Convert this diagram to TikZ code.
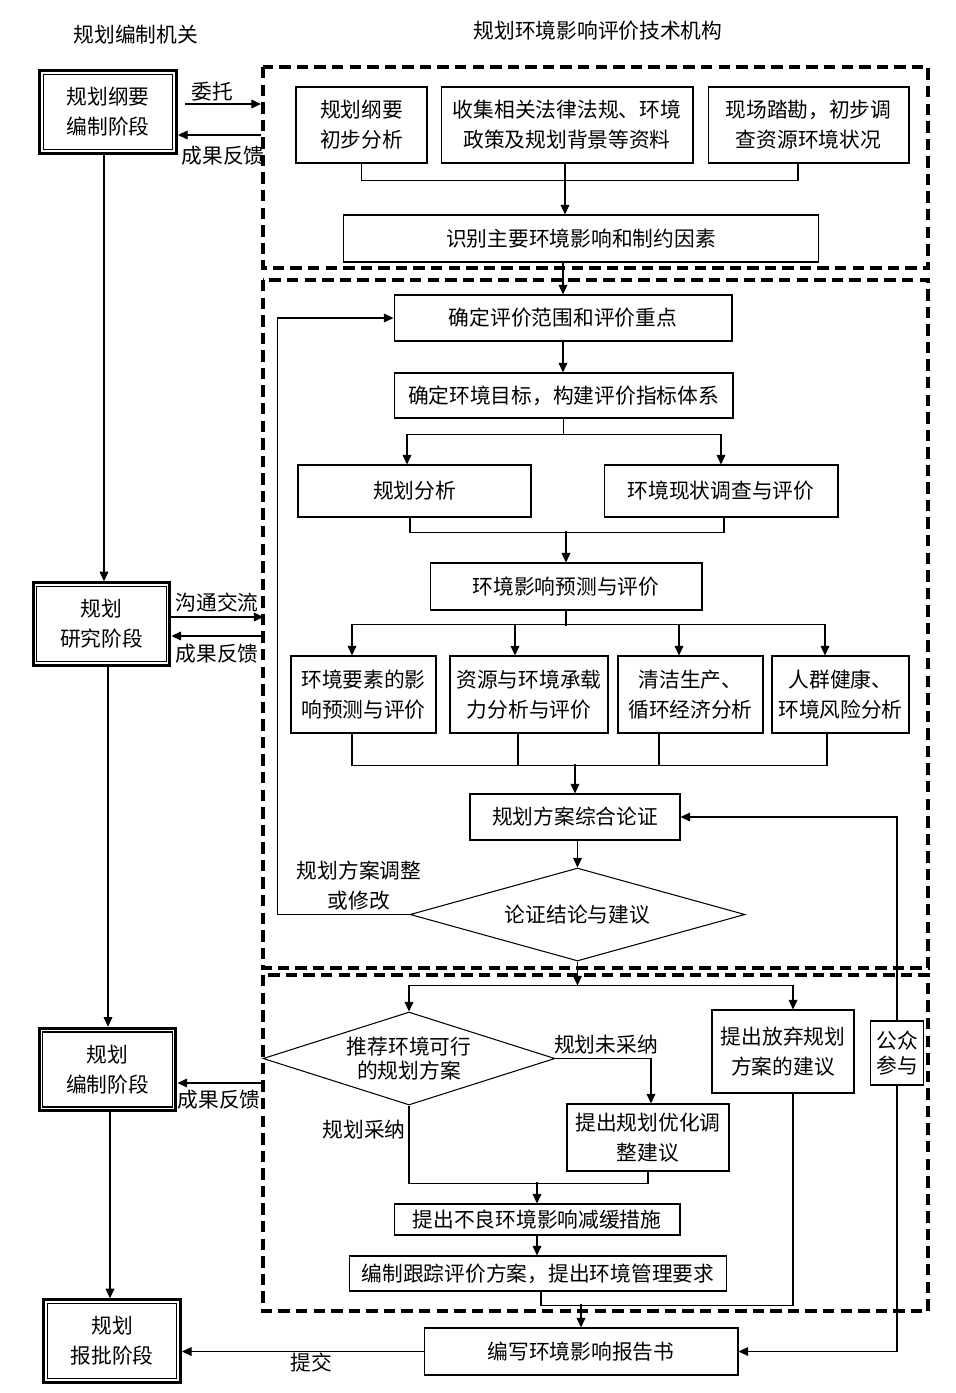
\documentclass[tikz,border=0pt]{standalone}
\usepackage{fontspec}
\setmainfont{Noto Sans CJK SC}
\usetikzlibrary{arrows.meta,shapes.geometric}

\begin{document}
\begin{tikzpicture}[x=0.02cm,y=-0.02cm,
    font=\fontsize{11.8pt}{17pt}\selectfont,
    box/.style={draw, line width=0.6pt, align=center, inner sep=0pt},
    stage/.style={draw, line width=1.7pt, align=center, inner sep=0pt,
        minimum width=2.74cm, minimum height=1.65cm},
    choice/.style={draw, diamond, line width=0.6pt, align=center, inner sep=0pt},
    dbox/.style={line width=1.8pt, dash pattern=on 6.5pt off 3.5pt},
    arr/.style={line width=0.6pt, -{Triangle[length=5.5pt,width=5pt]}},
    link/.style={line width=0.6pt},
    lbl/.style={inner sep=0pt, align=center}]

    \useasboundingbox (0,0) rectangle (956,1393);

    % Column headings
    \node[lbl] (hleft) at (136,35) {规划编制机关};
    \node[lbl] (hright) at (598,31) {规划环境影响评价技术机构};

    % Planning stages on the left (double frame)
    \node[stage] (s1) at (108,112) {规划纲要\\编制阶段};
    \node[stage] (s2) at (101.5,624) {规划\\研究阶段};
    \node[stage] (s3) at (107.5,1069.5) {规划\\编制阶段};
    \node[stage] (s4) at (112,1341) {规划\\报批阶段};
    \foreach \s in {s1,s2,s3,s4}
        \draw[line width=0.8pt] ([shift={(3pt,-3pt)}]\s.north west) rectangle ([shift={(-3pt,3pt)}]\s.south east);

    % Dashed frames of the three work phases
    \draw[dbox] (263,67) rectangle (928,268);
    \draw[dbox] (263,280) rectangle (928,968);
    \draw[dbox] (263,975) rectangle (928,1311);

    % Phase 1: preparation
    \node[box, minimum width=2.62cm, minimum height=1.52cm] (a1) at (361.5,125) {规划纲要\\初步分析};
    \node[box, minimum width=5.04cm, minimum height=1.52cm] (a2) at (567,125) {收集相关法律法规、环境\\政策及规划背景等资料};
    \node[box, minimum width=4.02cm, minimum height=1.52cm] (a3) at (808.5,125) {现场踏勘，初步调\\查资源环境状况};
    \node[box, minimum width=9.52cm, minimum height=0.94cm] (a4) at (581,238.5) {识别主要环境影响和制约因素};

    % Phase 2: assessment
    \node[box, minimum width=6.76cm, minimum height=0.92cm] (b1) at (563,318) {确定评价范围和评价重点};
    \node[box, minimum width=6.78cm, minimum height=0.90cm] (b2) at (563.5,395.5) {确定环境目标，构建评价指标体系};
    \node[box, minimum width=4.66cm, minimum height=1.04cm] (b3) at (414.5,491) {规划分析};
    \node[box, minimum width=4.68cm, minimum height=1.04cm] (b4) at (721,491) {环境现状调查与评价};
    \node[box, minimum width=5.44cm, minimum height=0.94cm] (b5) at (566,586.5) {环境影响预测与评价};
    \node[box, minimum width=2.90cm, minimum height=1.54cm] (c1) at (363.5,694.5) {环境要素的影\\响预测与评价};
    \node[box, minimum width=3.16cm, minimum height=1.54cm] (c2) at (529,694.5) {资源与环境承载\\力分析与评价};
    \node[box, minimum width=2.90cm, minimum height=1.54cm] (c3) at (690.5,694.5) {清洁生产、\\循环经济分析};
    \node[box, minimum width=2.74cm, minimum height=1.54cm] (c4) at (840.5,694.5) {人群健康、\\环境风险分析};
    \node[box, minimum width=4.20cm, minimum height=0.92cm] (b6) at (575,817) {规划方案综合论证};
    \node[choice, aspect=3.6, minimum width=6.7cm, minimum height=1.86cm] (d1) at (577.5,914.5) {论证结论与建议};

    % Phase 3: conclusions
    \node[choice, aspect=3.14, minimum width=5.84cm, minimum height=1.86cm] (d2) at (409,1058.5) {推荐环境可行\\[-3pt]的规划方案};
    \node[box, minimum width=2.84cm, minimum height=1.66cm] (e1) at (783,1051.5) {提出放弃规划\\方案的建议};
    \node[box, minimum width=3.24cm, minimum height=1.34cm] (e2) at (648,1137.5) {提出规划优化调\\整建议};
    \node[box, minimum width=5.72cm, minimum height=0.62cm] (e3) at (537,1219.5) {提出不良环境影响减缓措施};
    \node[box, minimum width=7.56cm, minimum height=0.70cm] (e4) at (538,1273.5) {编制跟踪评价方案，提出环境管理要求};
    \node[box, minimum width=6.28cm, minimum height=0.94cm] (rep) at (581,1351.5) {编写环境影响报告书};
    \node[box, minimum width=1.06cm, minimum height=1.28cm, font=\fontsize{11.8pt}{14pt}\selectfont] (pub) at (897,1053) {公众\\参与};

    % Labels on connectors
    \node[lbl] (wt) at (212,92) {委托};
    \node[lbl] (fb1) at (223,156) {成果反馈};
    \node[lbl] (gt) at (217,603) {沟通交流};
    \node[lbl] (fb2) at (217,654) {成果反馈};
    \node[lbl] (fb3) at (219,1100) {成果反馈};
    \node[lbl] (tj) at (311,1363) {提交};
    \node[lbl] (adj) at (359,886) {规划方案调整\\或修改};
    \node[lbl] (wcn) at (606,1045) {规划未采纳};
    \node[lbl] (cn) at (364,1130) {规划采纳};

    % Left column: stage sequence and exchanges with the assessment body
    \draw[arr] ([xshift=-0.08cm]s1.south) -- ([xshift=-0.08cm]s1.south |- s2.north);
    \draw[arr] ([xshift=0.13cm]s2.south) -- ([xshift=0.13cm]s2.south |- s3.north);
    \draw[arr] ([xshift=0.05cm]s3.south) -- ([xshift=0.05cm]s3.south |- s4.north);
    \draw[arr] ([xshift=0.14cm,yshift=0.16cm]s1.east) -- ++(76,0);
    \draw[arr] ([yshift=-0.46cm]s1.east) ++(83,0) -- ([yshift=-0.46cm]s1.east);
    \draw[arr] ([yshift=0.14cm]s2.east) -- ++(92,0);
    \draw[arr] ([yshift=-0.24cm]s2.east) ++(92,0) -- ([yshift=-0.24cm]s2.east);
    \draw[arr] ([yshift=-0.27cm]s3.east) ++(86,0) -- ([yshift=-0.27cm]s3.east);
    \draw[arr] (rep.west) -- (rep.west -| s4.east);

    % Phase 1 flow
    \draw[link] (a1.south) -- ++(0,17) -| ([xshift=-0.21cm]a3.south);
    \draw[arr] ([xshift=-0.04cm]a2.south) -- ([xshift=-0.04cm]a2.south |- a4.north);
    \draw[arr] (b1.north |- a4.south) -- (b1.north);

    % Phase 2 flow
    \draw[arr] (b1.south) -- (b1.south |- b2.north);
    \draw[arr] (b2.south) -- ++(0,16) -| ([xshift=-0.15cm]b3.north);
    \draw[arr] (b2.south) ++(0,16) -| (b4.north);
    \draw[link] ([xshift=-0.09cm]b3.south) -- ++(0,15) -| ([xshift=0.06cm]b4.south);
    \draw[arr] (b5.north) ++(0,-31) -- (b5.north);
    \draw[link] (b5.south) -- ++(0,15);
    \draw[link] ([xshift=-0.23cm]c1.north) ++(0,-31) -- ++(473,0);
    \foreach \n/\dx in {c1/-0.23,c2/-0.28,c3/-0.23,c4/-0.31}
        \draw[arr] ([xshift=\dx cm]\n.north) ++(0,-31) -- ([xshift=\dx cm]\n.north);
    \draw[link] ([xshift=-0.23cm]c1.south) -- ++(0,32) -| ([xshift=-0.27cm]c4.south);
    \draw[link] ([xshift=-0.22cm]c2.south) -- ++(0,32);
    \draw[link] ([xshift=-0.63cm]c3.south) -- ++(0,32);
    \draw[arr] (b6.north) ++(0,-29) -- (b6.north);
    \draw[arr] (d1.north |- b6.south) -- (d1.north);
    \draw[arr] (d1.west) -- ++(-132,0) |- (b1.west);

    % Phase 3 flow
    \draw[arr] (d1.south) -- ++(0,24) coordinate (split);
    \draw[arr] (split) -| (d2.north);
    \draw[arr] (split) -| ([xshift=0.2cm]e1.north);
    \draw[arr] (d2.east) -| ([xshift=0.06cm]e2.north);
    \draw[link] (d2.south) -- ++(0,78) -| (e2.south);
    \draw[arr] (e3.north) ++(0,-21) -- (e3.north);
    \draw[arr] (e3.south) -- (e3.south |- e4.north);
    \draw[link] ([xshift=0.06cm]e4.south) -- ++(0,14) -| ([xshift=0.2cm]e1.south);
    \draw[arr] (rep.north) ++(0,-23) -- (rep.north);

    % Public participation
    \draw[arr] (pub.north) |- (b6.east);
    \draw[arr] (pub.south) |- (rep.east);

\end{tikzpicture}
\end{document}
